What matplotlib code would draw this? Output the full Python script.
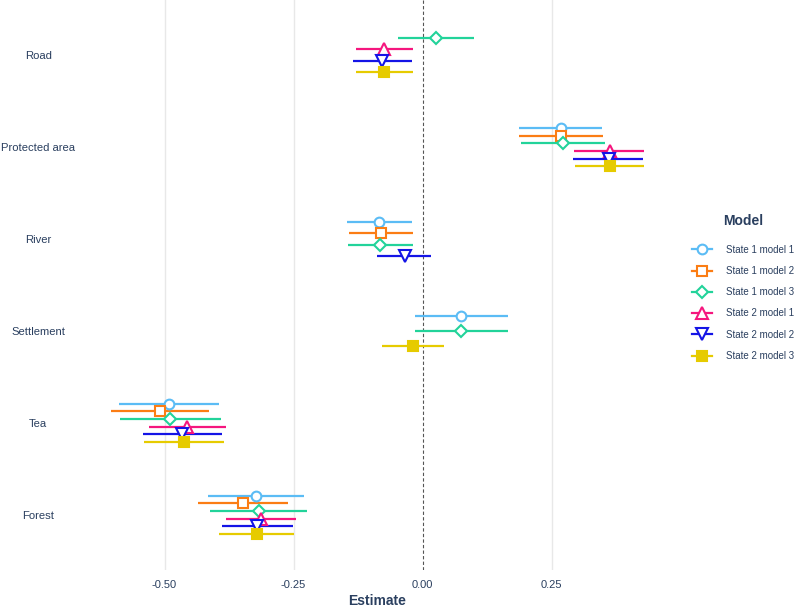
import matplotlib.pyplot as plt
from matplotlib.lines import Line2D

categories = ['Road', 'Protected area', 'River', 'Settlement', 'Tea', 'Forest']
models = ['State 1 model 1', 'State 1 model 2', 'State 1 model 3',
          'State 2 model 1', 'State 2 model 2', 'State 2 model 3']

# estimate, lower, upper per category (None = not in model)
s1m1_est = [None, 0.267, -0.084, 0.075, -0.491, -0.323]
s1m1_lo = [None, 0.186, -0.146, -0.015, -0.588, -0.415]
s1m1_hi = [None, 0.348, -0.021, 0.165, -0.394, -0.230]

s1m2_est = [None, 0.268, -0.081, None, -0.509, -0.348]
s1m2_lo = [None, 0.186, -0.143, None, -0.604, -0.436]
s1m2_hi = [None, 0.349, -0.018, None, -0.414, -0.261]

s1m3_est = [0.025, 0.272, -0.082, 0.075, -0.489, -0.317]
s1m3_lo = [-0.048, 0.190, -0.144, -0.015, -0.586, -0.411]
s1m3_hi = [0.100, 0.354, -0.019, 0.165, -0.391, -0.224]

s2m1_est = [-0.074, 0.362, None, None, -0.457, -0.314]
s2m1_lo = [-0.130, 0.294, None, None, -0.531, -0.381]
s2m1_hi = [-0.018, 0.429, None, None, -0.381, -0.245]

s2m2_est = [-0.079, 0.360, -0.035, None, -0.466, -0.320]
s2m2_lo = [-0.135, 0.292, -0.088, None, -0.542, -0.389]
s2m2_hi = [-0.021, 0.427, 0.017, None, -0.389, -0.252]

s2m3_est = [-0.074, 0.362, None, -0.018, -0.463, -0.321]
s2m3_lo = [-0.130, 0.295, None, -0.078, -0.540, -0.394]
s2m3_hi = [-0.018, 0.429, None, 0.041, -0.385, -0.249]

ticks = [-0.5, -0.25, 0.0, 0.25]
tick_labels = ['-0.50', '-0.25', '0.00', '0.25']

series = [(s1m1_est, s1m1_lo, s1m1_hi), (s1m2_est, s1m2_lo, s1m2_hi),
          (s1m3_est, s1m3_lo, s1m3_hi), (s2m1_est, s2m1_lo, s2m1_hi),
          (s2m2_est, s2m2_lo, s2m2_hi), (s2m3_est, s2m3_lo, s2m3_hi)]

colors = ['#5bbcf5', '#fb7d14', '#22d39a', '#f5167e', '#1414e6', '#e6cb00']
markers = ['o', 's', 'D', '^', 'v', 's']
msizes = [7, 6.5, 6.5, 8.5, 8.5, 6.5]
filled = [False, False, False, False, False, True]
text_col = '#2a3f5f'

plt.rcParams['font.family'] = ['Liberation Sans', 'DejaVu Sans']

fig = plt.figure(figsize=(7.97, 6.08), dpi=100)
ax = fig.add_axes([84 / 797, 38 / 608, 587 / 797, 570 / 608])

dodge = 0.5
for ci in range(len(categories)):
    present = [m for m in range(len(models)) if series[m][0][ci] is not None]
    n = len(present)
    for j, m in enumerate(present):
        est, lo, hi = series[m]
        y = ci + (j - (n - 1) / 2) * dodge / n
        ax.plot([lo[ci], hi[ci]], [y, y], color=colors[m], lw=1.6,
                solid_capstyle='butt', zorder=3)
        ax.plot(est[ci], y, marker=markers[m], ms=msizes[m], color=colors[m],
                mfc=colors[m] if filled[m] else 'white', mew=1.5, zorder=4)

for t in ticks:
    if t != 0:
        ax.axvline(t, color='#e8e8e8', lw=1, zorder=0)
ax.axvline(0, color='#555555', lw=0.8, ls=(0, (3, 2)), zorder=1)

ax.set_xlim(-0.656, 0.481)
ax.set_ylim(5.6, -0.6)
ax.set_xticks(ticks)
ax.set_xticklabels(tick_labels)
ax.set_yticks(range(len(categories)))
ax.set_yticklabels(categories, ha='center')
ax.tick_params(axis='x', length=0, pad=7.5, labelsize=8, labelcolor=text_col)
ax.tick_params(axis='y', length=0, pad=33, labelsize=8.1, labelcolor=text_col)
for s in ax.spines.values():
    s.set_visible(False)
ax.set_xlabel('Estimate', fontsize=10, fontweight='bold', color=text_col, labelpad=2.5)

handles = []
for m in range(len(models)):
    handles.append(Line2D([0], [0], color=colors[m], lw=1.6, marker=markers[m],
                          ms=msizes[m], mew=1.5,
                          mfc=colors[m] if filled[m] else 'white'))
leg = fig.legend(handles, models, loc='upper left', bbox_to_anchor=(692 / 797, 1 - 214 / 608),
                 frameon=False, fontsize=7.0, handlelength=2.1, handletextpad=1.4,
                 labelspacing=1.16, borderpad=0, borderaxespad=0,
                 title='Model', title_fontproperties={'weight': 'bold', 'size': 10})
leg.get_title().set_color(text_col)
for t in leg.get_texts():
    t.set_color(text_col)
leg._legend_box.align = 'center'
leg._legend_box.sep = 12

fig.savefig('out.png', dpi=100)
